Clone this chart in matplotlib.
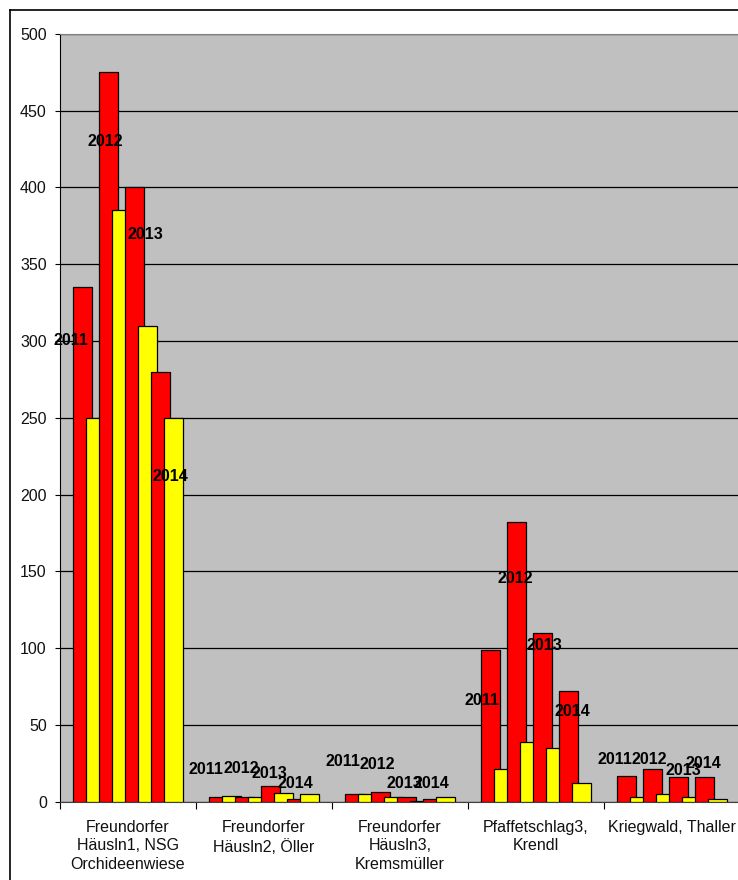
import numpy as np
import matplotlib.pyplot as plt
from matplotlib.lines import Line2D

plt.rcParams['font.family'] = ['Liberation Sans', 'DejaVu Sans']

sites = ["Freundorfer\nHäusln1, NSG\nOrchideenwiese",
         "Freundorfer\nHäusln2, Öller",
         "Freundorfer\nHäusln3,\nKremsmüller",
         "Pfaffetschlag3,\nKrendl",
         "Kriegwald, Thaller"]
years = ["2011", "2012", "2013", "2014"]

# counts per site, one entry per year
red_counts = [[335, 475, 400, 280],
              [3, 3, 10, 2],
              [5, 6, 3, 2],
              [99, 182, 110, 72],
              [17, 21, 16, 16]]
yellow_counts = [[250, 385, 310, 250],
                 [4, 3, 5.5, 5],
                 [5, 3, 0.5, 3],
                 [21, 39, 35, 12],
                 [3, 5, 3, 2]]

# where the year captions sit (offset from site centre, height)
label_dx = [[-0.419, -0.165, 0.125, 0.309],
            [-0.430, -0.169, 0.037, 0.232],
            [-0.419, -0.169, 0.033, 0.232],
            [-0.401, -0.154, 0.064, 0.265],
            [-0.419, -0.165, 0.081, 0.228]]
label_y = [[300, 430, 369, 212],
           [20.8, 21.5, 18.6, 11.7],
           [26.4, 24.3, 11.7, 11.7],
           [65.8, 145.6, 101.5, 59],
           [27.6, 27.6, 20, 25]]

W, H = 738, 880
fig = plt.figure(figsize=(W / 100, H / 100), dpi=100)
ax = fig.add_axes([60 / W, (H - 801.7) / H, 680 / W, 768 / H])
ax.set_facecolor('#C0C0C0')

step = 0.0956
width = 0.136
z = 3
for i in range(len(sites)):
    for j in range(len(years)):
        xr = i + (2 * j - 3.5) * step
        xy = i + (2 * j + 1 - 3.5) * step
        ax.bar(xr, red_counts[i][j], width, color='#FF0000', edgecolor='black',
               linewidth=0.9, zorder=z)
        ax.bar(xy, yellow_counts[i][j], width, color='#FFFF00', edgecolor='black',
               linewidth=0.9, zorder=z + 1)
        z += 2
        ax.text(i + label_dx[i][j], label_y[i][j], years[j], ha='center', va='center',
                fontsize=11.5, fontweight='bold', zorder=50)

ax.set_xlim(-0.5, 4.5)
ax.set_ylim(0, 500)
ax.set_yticks(np.arange(0, 501, 50))
ax.yaxis.grid(True, color='black', linewidth=0.9, zorder=1)
ax.set_axisbelow(True)

ax.set_xticks(range(len(sites)))
ax.set_xticklabels(sites, fontsize=11.5, color='#111111', linespacing=1.3)
ax.set_xticks(np.arange(-0.5, 4.6, 1), minor=True)
ax.tick_params(axis='x', which='major', length=0, pad=13)
ax.tick_params(axis='x', which='minor', length=5, width=0.8, direction='out')
ax.tick_params(axis='y', length=3.5, width=0.8, pad=6, labelsize=11.5, labelcolor='#111111')

for side in ['top', 'right']:
    ax.spines[side].set_color('#808080')
ax.spines['left'].set_color('black')
ax.spines['bottom'].set_color('#404040')

# outer chart frame
fig.add_artist(Line2D([10 / W, 10 / W], [0, 1 - 10 / H], transform=fig.transFigure,
                      color='black', linewidth=1.2))
fig.add_artist(Line2D([10 / W, 1], [1 - 10 / H, 1 - 10 / H], transform=fig.transFigure,
                      color='black', linewidth=1.2))

fig.savefig('out.png', dpi=100)
